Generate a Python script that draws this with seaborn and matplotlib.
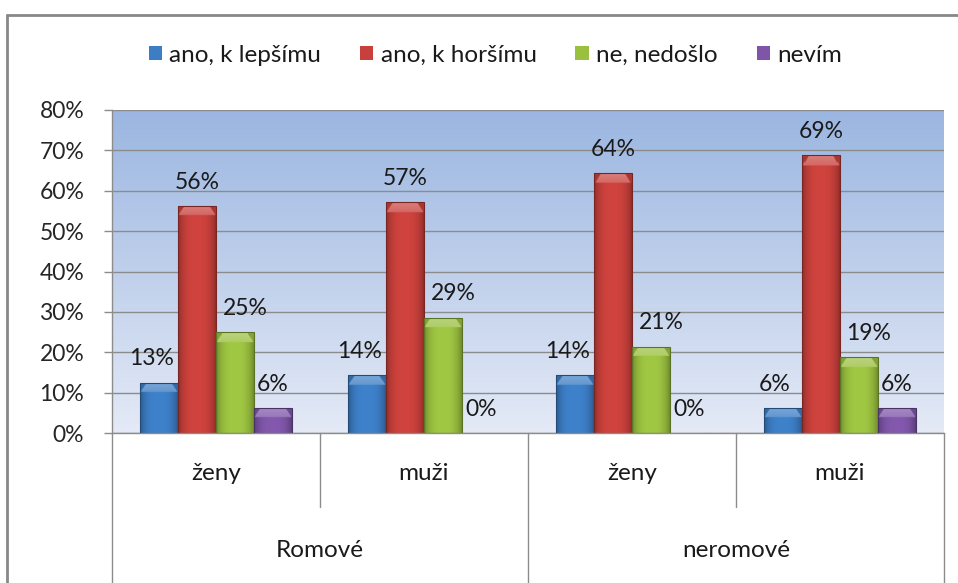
import numpy as np
import pandas as pd
import matplotlib
matplotlib.use("Agg")
import matplotlib.pyplot as plt
import matplotlib.transforms as mtransforms
from matplotlib.colors import LinearSegmentedColormap, to_rgb
from matplotlib.lines import Line2D
import seaborn as sns

# data
groups = ["Romové", "neromové"]
sexes = ["ženy", "muži", "ženy", "muži"]
answers = ["ano, k lepšímu", "ano, k horšímu", "ne, nedošlo", "nevím"]
better = [12.5, 14.3, 14.3, 6.25]
worse = [56.25, 57.1, 64.3, 68.75]
no_change = [25.0, 28.6, 21.4, 18.75]
dont_know = [6.25, 0.0, 0.0, 6.25]
colors = ["#3C7DC4", "#C8403B", "#9AC040", "#7E55A8"]

cats = ["Romové ženy", "Romové muži", "neromové ženy", "neromové muži"]
rows = []
for ans, vals in zip(answers, [better, worse, no_change, dont_know]):
    for c, v in zip(cats, vals):
        rows.append({"cat": c, "answer": ans, "value": v})
df = pd.DataFrame(rows)

sns.set_style("white")
plt.rcParams["font.family"] = ["Lato", "DejaVu Sans"]
plt.rcParams["text.color"] = "#1a1a1a"

fig = plt.figure(figsize=(9.58, 5.83), dpi=100)
ax = fig.add_axes([112 / 958, 150 / 583, 832 / 958, 323 / 583])

# gradient background
bg = LinearSegmentedColormap.from_list("bg", ["#E4EAF6", "#9BB6E1"])
ax.imshow(np.linspace(0, 1, 256).reshape(-1, 1), cmap=bg, origin="lower",
          extent=[-0.5, 3.5, 0, 80], aspect="auto", zorder=0)

sns.barplot(data=df, x="cat", y="value", hue="answer", order=cats,
            hue_order=answers, palette=colors, saturation=1, width=0.73,
            errorbar=None, edgecolor="none", ax=ax, zorder=2)

handles, labels = ax.get_legend_handles_labels()
ax.get_legend().remove()

# shading of bars (bevel look)
for cont, col, dx in zip(ax.containers, colors, [-8, 0, 10, 0]):
    base = np.array(to_rgb(col))
    for p, val in zip(cont.patches, cont.datavalues):
        x0, w, h = p.get_x(), p.get_width(), p.get_height()
        if h > 0:
            nx, ny = 40, 160
            xs = np.linspace(0, 1, nx)
            ys = np.linspace(0, h, ny)
            fx = 1 - np.abs(2 * xs - 1) ** 3
            bev = 2.4
            shade = np.empty((ny, nx, 3))
            for i, yy in enumerate(ys):
                if yy > h - bev:
                    d = (h - yy) / bev  # 0 at top, 1 at bevel bottom
                    inner = np.abs(2 * xs - 1) < (1 - 0.35 * (1 - d))
                    t = 0.32 - 0.12 * d
                    c = np.where(inner[:, None], base + (1 - base) * t,
                                 base * 0.85)
                else:
                    c = base * (0.74 + 0.3 * fx[:, None])
                shade[i] = np.clip(c, 0, 1)
            im = ax.imshow(shade, origin="lower", extent=[x0, x0 + w, 0, h],
                           aspect="auto", zorder=2.5, interpolation="bilinear")
            im.set_clip_path(p)
            p.set_edgecolor(base * 0.6)
            p.set_linewidth(0.8)
            p.set_zorder(2.6)
            p.set_facecolor("none")
        lab = "{:d}%".format(int(np.floor(val + 0.5)))
        ax.annotate(lab, (x0 + w / 2, h), xytext=(dx * 0.72, 17),
                    textcoords="offset points", ha="center", va="center",
                    fontsize=16.5, color="#1a1a1a", zorder=5)

ax.set_xlim(-0.5, 3.5)
ax.set_ylim(0, 80)
ax.set_yticks(range(0, 90, 10))
ax.set_yticklabels([f"{v}%" for v in range(0, 90, 10)], fontsize=16.5)
ax.set_xticks([])
ax.set_xlabel("")
ax.set_ylabel("")
ax.yaxis.grid(True, color="#8C8C8C", linewidth=1)
ax.set_axisbelow(True)
ax.tick_params(axis="y", left=True, length=6, width=1, color="#8C8C8C", pad=14)
for s in ["top", "right"]:
    ax.spines[s].set_visible(False)
for s in ["left", "bottom"]:
    ax.spines[s].set_color("#8C8C8C")
    ax.spines[s].set_linewidth(1)

# two-level category axis
trans = mtransforms.blended_transform_factory(ax.transData, ax.transAxes)
for xv, yb in [(-0.5, -0.48), (0.5, -0.23), (1.5, -0.48), (2.5, -0.23), (3.5, -0.48)]:
    ax.plot([xv, xv], [0, yb], color="#8C8C8C", lw=1, transform=trans, clip_on=False)
for i, s in enumerate(sexes):
    ax.text(i, -0.124, s, transform=trans, ha="center", va="center", fontsize=17.5)
for i, g in enumerate(groups):
    ax.text(0.5 + 2 * i, -0.365, g, transform=trans, ha="center", va="center", fontsize=17.5)

# legend
fig.legend(handles, labels, loc="center", bbox_to_anchor=(0.517, 1 - 55 / 583),
           ncol=4, frameon=False, fontsize=17.5, handlelength=0.55, handleheight=0.55,
           handletextpad=0.3, columnspacing=1.6)

# outer chart frame
fig.add_artist(Line2D([7 / 958, 1], [1 - 15 / 583, 1 - 15 / 583], color="#888888", lw=2))
fig.add_artist(Line2D([7 / 958, 7 / 958], [0, 1 - 15 / 583], color="#888888", lw=2))

fig.savefig("out.png", dpi=100)
